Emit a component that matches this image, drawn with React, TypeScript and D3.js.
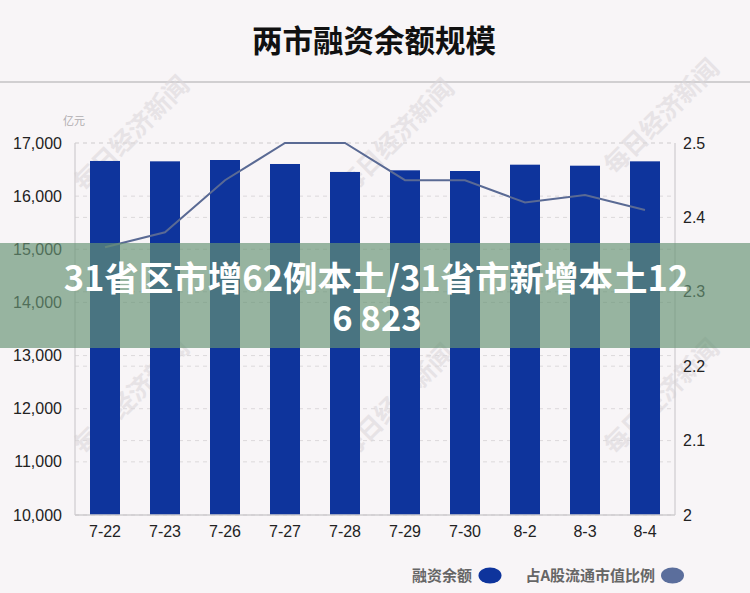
import * as d3 from 'd3';
import React from 'react';

const dates = ['7-22', '7-23', '7-26', '7-27', '7-28', '7-29', '7-30', '8-2', '8-3', '8-4'];
const financing = [16662, 16655, 16680, 16605, 16455, 16486, 16473, 16592, 16573, 16655];
const ratio = [2.36, 2.38, 2.45, 2.5, 2.5, 2.45, 2.45, 2.42, 2.43, 2.41];
const leftTicks = [10000, 11000, 12000, 13000, 14000, 15000, 16000, 17000];
const rightTicks = [2, 2.1, 2.2, 2.3, 2.4, 2.5];
const watermarkSpots = [
  [130, 132],
  [395, 135],
  [660, 115],
  [130, 395],
  [395, 400],
  [660, 395],
];

const W = 750;
const H = 593;
const BG = '#f8f5f7';
const BAR = '#0e349c';
const LINE = '#5a6a94';
const NUM_FONT = '"Liberation Sans", Arial, sans-serif';
const CJK_FONT = '"Noto Sans CJK SC", sans-serif';

const plot = { left: 75, right: 675, top: 143, bottom: 515 };

export default function App() {
  const x = d3
    .scaleBand<string>()
    .domain(dates)
    .range([plot.left, plot.right])
    .paddingInner(0.5)
    .paddingOuter(0.25);
  const yL = d3.scaleLinear().domain([10000, 17000]).range([plot.bottom, plot.top]);
  const yR = d3.scaleLinear().domain([2, 2.5]).range([plot.bottom, plot.top]);
  const fmt = d3.format(',');

  const linePath = d3
    .line<number>()
    .x((_, i) => (x(dates[i]) ?? 0) + x.bandwidth() / 2)
    .y(d => yR(d))(ratio);

  return (
    <svg width={W} height={H} style={{ position: 'fixed', left: 0, top: 0, background: BG }}>
      <rect width={W} height={H} fill={BG} />

      {/* title */}
      <text x={374} y={52} textAnchor="middle" fontFamily={CJK_FONT} fontWeight={700} fontSize={30.5} fill="#111">
        两市融资余额规模
      </text>
      <line x1={0} x2={W} y1={82} y2={82} stroke="#c4c2c4" strokeWidth={1.5} />

      {/* watermarks */}
      {watermarkSpots.map(([cx, cy], i) => (
        <text
          key={i}
          x={cx}
          y={cy}
          transform={`rotate(-45, ${cx}, ${cy})`}
          textAnchor="middle"
          dominantBaseline="central"
          fontFamily={CJK_FONT}
          fontWeight={700}
          fontSize={25}
          fill="#dcd8db"
          opacity={0.6}
        >
          每日经济新闻
        </text>
      ))}

      {/* grid */}
      {leftTicks.map(t => (
        <line key={'gl' + t} x1={plot.left} x2={plot.right} y1={yL(t)} y2={yL(t)} stroke="#dcd9db" strokeDasharray="4,4" />
      ))}
      {rightTicks.map(t => (
        <line key={'gr' + t} x1={plot.left} x2={plot.right} y1={yR(t)} y2={yR(t)} stroke="#dcd9db" strokeDasharray="4,4" />
      ))}

      {/* axes lines */}
      <line x1={plot.left} x2={plot.left} y1={plot.top} y2={plot.bottom} stroke="#cfcccf" strokeWidth={1.2} />
      <line x1={plot.right} x2={plot.right} y1={plot.top} y2={plot.bottom} stroke="#cfcccf" strokeWidth={1.2} />

      {/* bars */}
      {financing.map((v, i) => (
        <rect
          key={dates[i]}
          x={x(dates[i])}
          y={yL(v)}
          width={x.bandwidth()}
          height={yL(10000) - yL(v)}
          fill={BAR}
        />
      ))}
      <line x1={plot.left} x2={plot.right} y1={plot.bottom} y2={plot.bottom} stroke="#cfcccf" strokeWidth={1.5} />

      {/* ratio line */}
      <path d={linePath ?? ''} fill="none" stroke={LINE} strokeWidth={2} />

      {/* axis labels */}
      <text x={63} y={125} fontFamily={CJK_FONT} fontSize={11} fill="#b0adb0">
        亿元
      </text>
      {leftTicks.map(t => (
        <text key={'l' + t} x={62} y={yL(t)} dy="0.35em" textAnchor="end" fontFamily={NUM_FONT} fontSize={16} fill="#222">
          {fmt(t)}
        </text>
      ))}
      {rightTicks.map(t => (
        <text key={'r' + t} x={683} y={yR(t)} dy="0.35em" fontFamily={NUM_FONT} fontSize={16} fill="#222">
          {d3.format('~g')(t)}
        </text>
      ))}
      {dates.map(d => (
        <text
          key={'x' + d}
          x={(x(d) ?? 0) + x.bandwidth() / 2}
          y={537}
          textAnchor="middle"
          fontFamily={NUM_FONT}
          fontSize={16}
          fill="#222"
        >
          {d}
        </text>
      ))}

      {/* legend */}
      <text x={472} y={581} textAnchor="end" fontFamily={CJK_FONT} fontWeight={700} fontSize={15} fill="#666">
        融资余额
      </text>
      <ellipse cx={490} cy={575.5} rx={11.5} ry={8} fill={BAR} />
      <text x={655} y={581} textAnchor="end" fontFamily={CJK_FONT} fontWeight={700} fontSize={15} fill="#666">
        占A股流通市值比例
      </text>
      <ellipse cx={672.5} cy={575.5} rx={11.5} ry={8} fill="#5b6e9c" />

      {/* headline banner */}
      <rect x={0} y={243} width={W} height={105} fill="rgb(103,147,117)" fillOpacity={0.67} />
      <text x={376} y={291} textAnchor="middle" fontFamily={CJK_FONT} fontWeight={700} fontSize={34.5} fill="#fff">
        31省区市增62例本土/31省市新增本土12
      </text>
      <text x={377} y={331} textAnchor="middle" fontFamily={CJK_FONT} fontWeight={700} fontSize={34.5} fill="#fff">
        6 823
      </text>
    </svg>
  );
}
